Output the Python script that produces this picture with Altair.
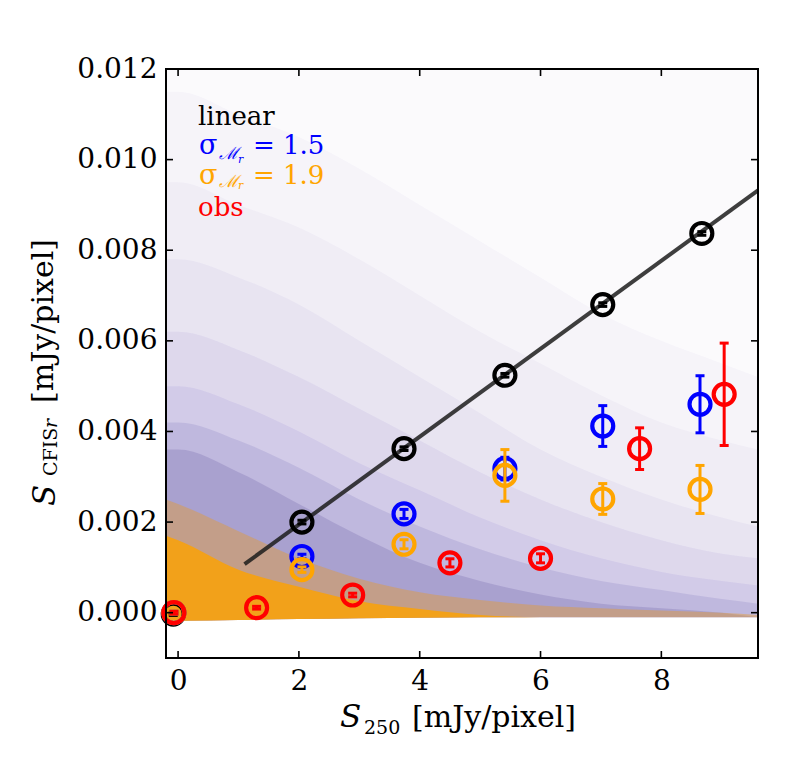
import altair as alt
import pandas as pd

# ---------------- axes ----------------
x_domain = [-0.2, 9.6]
y_domain = [-0.001, 0.012]
x_ticks = [0, 2, 4, 6, 8]
y_ticks = [0.0, 0.002, 0.004, 0.006, 0.008, 0.010, 0.012]

# ---------------- binned series (circles + error bars) ----------------
lin_x = [-0.08, 2.05, 3.74, 5.41, 7.03, 8.67]
lin_y = [-0.00003, 0.0020, 0.00362, 0.00524, 0.0068, 0.00837]
lin_err = [0.00003, 0.00004, 0.00004, 0.00004, 0.00004, 0.00004]

blue_x = [-0.07, 2.05, 3.74, 5.41, 7.03, 8.64]
blue_y = [0.0, 0.00124, 0.00218, 0.00318, 0.00412, 0.0046]
blue_err = [0.00003, 0.00005, 0.0001, 0.00025, 0.00045, 0.00063]

orange_x = [-0.07, 2.05, 3.74, 5.41, 7.03, 8.64]
orange_y = [0.0, 0.00095, 0.00151, 0.00303, 0.00251, 0.00272]
orange_err = [0.00003, 0.00006, 0.0001, 0.00057, 0.00034, 0.00053]

red_x = [-0.07, 1.30, 2.89, 4.50, 6.00, 7.64, 9.04]
red_y = [0.0, 0.00011, 0.00039, 0.0011, 0.0012, 0.00362, 0.00482]
red_err = [0.00003, 0.00003, 0.00004, 0.00009, 0.0001, 0.00046, 0.00113]

# linear relation traced by the dense black points
line_x = [1.1, 9.6]
line_y = [0.00107, 0.00932]

# ---------------- scatter cloud, as estimated density envelopes ----------------
cloud_x = [-0.2, 0.0, 1.0, 2.0, 3.0, 4.0, 5.0, 6.0, 7.0, 8.0, 9.0, 9.6]
cloud_lo = [-0.00018, -0.00018, -0.00016, -0.00014, -0.00012, -0.00011,
            -0.0001, -0.0001, -0.0001, -0.0001, -0.0001, -0.0001]
lvl1_top = [0.012, 0.012, 0.012, 0.012, 0.012, 0.012, 0.012, 0.012, 0.012, 0.012, 0.012, 0.012]
lvl2_top = [0.0115, 0.0115, 0.011, 0.0105, 0.0098, 0.009, 0.0082, 0.0074, 0.0066, 0.006, 0.0055, 0.0052]
lvl3_top = [0.0095, 0.0095, 0.009, 0.0085, 0.0078, 0.007, 0.0062, 0.0055, 0.0048, 0.0042, 0.0038, 0.0036]
lvl4_top = [0.0078, 0.0078, 0.0074, 0.0068, 0.006, 0.0052, 0.0044, 0.0036, 0.003, 0.0025, 0.0021, 0.0019]
lvl5_top = [0.0062, 0.0062, 0.0058, 0.0052, 0.0045, 0.0038, 0.0031, 0.0025, 0.002, 0.0016, 0.0013, 0.0012]
lvl6_top = [0.005, 0.005, 0.0046, 0.004, 0.0033, 0.0027, 0.0021, 0.0016, 0.0012, 0.0009, 0.0007, 0.0006]
lvl7_top = [0.0042, 0.0042, 0.0038, 0.0032, 0.0025, 0.0019, 0.0014, 0.001, 0.0007, 0.0005, 0.0003, 0.0002]
lvl8_top = [0.0036, 0.0036, 0.0031, 0.0024, 0.0017, 0.0011, 0.0007, 0.0004, 0.0002, 0.0001, 0.0, -0.0001]
orange_soft_top = [0.0025, 0.0024, 0.0018, 0.0012, 0.00075, 0.00045, 0.00028, 0.00016, 0.0001, 0.00005, 0.0, -0.00005]
orange_solid_top = [0.0017, 0.0016, 0.00095, 0.00057, 0.00025, 0.00008, -0.00005, -0.0001,
                    -0.0001, -0.0001, -0.0001, -0.0001]
blue_level_opacity = [0.02, 0.025, 0.03, 0.04, 0.055, 0.07]
orange_level_opacity = [0.012, 0.012, 0.015, 0.015, 0.02, 0.02]

# ---------------- texts ----------------
legend_labels = ["linear", "σ", "= 1.5", "σ", "= 1.9", "obs"]
x_title = ["S", "250", "[mJy/pixel]"]
y_title = ["S", "CFIS", "r", "[mJy/pixel]"]
sub_M = "ℳ"
sub_r = "r"

FONT = "DejaVu Serif"
W, H = 592, 589
xs = alt.Scale(domain=x_domain, nice=False, zero=False)
ys = alt.Scale(domain=y_domain, nice=False, zero=False)
XAX = alt.Axis(values=x_ticks, format="d", ticks=False, domain=False, grid=False, labelFont=FONT,
               labelFontSize=28, labelColor="black", labelPadding=9, title=None, labelFlush=False)
YAX = alt.Axis(values=y_ticks, format=".3f", ticks=False, domain=False, grid=False, labelFont=FONT,
               labelFontSize=28, labelColor="black", labelPadding=9, title=None, labelFlush=False)


def X(f):
    return alt.X(f"{f}:Q", scale=xs, axis=XAX)


def Y(f):
    return alt.Y(f"{f}:Q", scale=ys, axis=YAX)


layers = []


def envelope(top, color, opacity):
    df = pd.DataFrame({"x": cloud_x, "lo": cloud_lo, "hi": top})
    return alt.Chart(df).mark_area(color=color, opacity=opacity, interpolate="monotone", clip=True).encode(
        x=X("x"), y=Y("hi"), y2="lo:Q")


# cloud of faint blue / orange points
for top, bo, oo in zip([lvl1_top, lvl2_top, lvl3_top, lvl4_top, lvl5_top, lvl6_top],
                       blue_level_opacity, orange_level_opacity):
    layers.append(envelope(top, "#3c3cff", bo))
    layers.append(envelope(top, "#ffa500", oo))
layers.append(envelope(lvl7_top, "#3a30a0", 0.12))
layers.append(envelope(lvl8_top, "#40308a", 0.17))
layers.append(envelope(orange_soft_top, "#e89a28", 0.42))
layers.append(envelope(orange_solid_top, "#f2a11a", 1.0))

# black line
line_df = pd.DataFrame({"x": line_x, "y": line_y})
layers.append(alt.Chart(line_df).mark_line(color="#1c1c1c", opacity=0.85, strokeWidth=4).encode(
    x=X("x"), y=Y("y")))


def series(xv, yv, ev, color):
    df = pd.DataFrame({"x": xv, "y": yv, "lo": [a - b for a, b in zip(yv, ev)],
                       "hi": [a + b for a, b in zip(yv, ev)]})
    base = alt.Chart(df)
    return [
        base.mark_rule(color=color, strokeWidth=3).encode(x=X("x"), y=Y("lo"), y2="hi:Q"),
        base.mark_tick(color=color, orient="horizontal", thickness=3, size=9, opacity=1).encode(
            x=X("x"), y=Y("lo")),
        base.mark_tick(color=color, orient="horizontal", thickness=3, size=9, opacity=1).encode(
            x=X("x"), y=Y("hi")),
        base.mark_point(shape="circle", filled=False, color=color, strokeWidth=4.2, size=440, opacity=1).encode(
            x=X("x"), y=Y("y")),
    ]


layers += series(lin_x, lin_y, lin_err, "black")
layers += series(blue_x, blue_y, blue_err, "blue")
layers += series(orange_x, orange_y, orange_err, "orange")
layers += series(red_x, red_y, red_err, "red")

# inward ticks on all four sides
xt = pd.DataFrame({"v": x_ticks})
yt = pd.DataFrame({"v": y_ticks})
layers.append(alt.Chart(xt).mark_rule(color="black", strokeWidth=1.6).encode(
    x=X("v"), y=alt.value(H), y2=alt.value(H - 7)))
layers.append(alt.Chart(xt).mark_rule(color="black", strokeWidth=1.6).encode(
    x=X("v"), y=alt.value(0), y2=alt.value(7)))
layers.append(alt.Chart(yt).mark_rule(color="black", strokeWidth=1.6).encode(
    y=Y("v"), x=alt.value(0), x2=alt.value(7)))
layers.append(alt.Chart(yt).mark_rule(color="black", strokeWidth=1.6).encode(
    y=Y("v"), x=alt.value(W), x2=alt.value(W - 7)))

# frame
frame_df = pd.DataFrame({"a": [0]})
layers.append(alt.Chart(frame_df).mark_rect(filled=False, stroke="black", strokeWidth=2).encode(
    x=alt.value(0), x2=alt.value(W), y=alt.value(0), y2=alt.value(H)))


def txt(s, x, y, size, color="black", style="normal", angle=0):
    df = pd.DataFrame({"t": [s]})
    return alt.Chart(df).mark_text(font=FONT, fontSize=size, color=color, fontStyle=style,
                                   align="left", baseline="alphabetic", angle=angle).encode(
        text="t:N", x=alt.value(x), y=alt.value(y))


# legend texts
layers.append(txt(legend_labels[0], 32, 56, 26, "black"))
layers.append(txt(legend_labels[1], 33, 85, 27, "blue"))
layers.append(txt(sub_M, 53, 90, 17, "blue", "italic"))
layers.append(txt(sub_r, 72, 94, 11, "blue", "italic"))
layers.append(txt(legend_labels[2], 87, 85, 26, "blue"))
layers.append(txt(legend_labels[3], 33, 115, 27, "orange"))
layers.append(txt(sub_M, 53, 118, 17, "orange", "italic"))
layers.append(txt(sub_r, 72, 120, 11, "orange", "italic"))
layers.append(txt(legend_labels[4], 87, 115, 26, "orange"))
layers.append(txt(legend_labels[5], 32, 147, 26, "red"))

# x-axis title
layers.append(txt(x_title[0], 174, 658, 31, "black", "italic"))
layers.append(txt(x_title[1], 198, 665, 19, "black"))
layers.append(txt(x_title[2], 246, 658, 30, "black"))

# y-axis title (rotated)
layers.append(txt(y_title[0], -111, 437, 31, "black", "italic", 270))
layers.append(txt(y_title[1], -109, 407, 19, "black", "normal", 270))
layers.append(txt(y_title[2], -109, 359, 19, "black", "italic", 270))
layers.append(txt(y_title[3], -113, 334, 30, "black", "normal", 270))

chart = alt.layer(*layers).properties(
    width=W, height=H,
    autosize=alt.AutoSizeParams(type="none"),
    padding={"left": 158, "top": 61, "right": 10, "bottom": 90},
    background="white",
).configure_view(stroke=None)

chart.save("out.html", embed_options={"renderer": "svg", "actions": False})
